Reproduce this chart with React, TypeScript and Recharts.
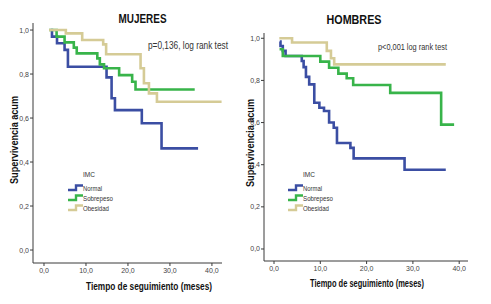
import React from 'react';
import { LineChart, Line, XAxis, YAxis, Label } from 'recharts';

// ---------- data ----------
const xTicks = [0, 10, 20, 30, 40];
const yTicks = [0, 0.2, 0.4, 0.6, 0.8, 1.0];
const groups = ['Normal', 'Sobrepeso', 'Obesidad'];
const colors = ['#3b4ea3', '#38b44a', '#d5cb96'];

// MUJERES
const mujNormalT = [1.6, 1.9, 3.1, 4.9, 5.7, 14.9, 16.1, 16.9, 23.3, 28.0, 36.7];
const mujNormalS = [1.0, 0.97, 0.94, 0.91, 0.833, 0.785, 0.69, 0.636, 0.576, 0.462, 0.462];
const mujSobreT = [1.2, 3.0, 4.9, 7.1, 7.8, 12.7, 13.3, 14.3, 17.9, 21.0, 21.8, 35.9];
const mujSobreS = [1.0, 0.97, 0.944, 0.92, 0.894, 0.871, 0.844, 0.826, 0.795, 0.765, 0.73, 0.73];
const mujObesT = [1.2, 5.2, 9.1, 14.1, 14.8, 23.0, 23.8, 25.0, 26.9, 42.3];
const mujObesS = [1.0, 0.985, 0.955, 0.935, 0.89, 0.826, 0.758, 0.712, 0.674, 0.674];

// HOMBRES
const homNormalT = [1.25, 1.4, 1.9, 2.5, 6.0, 6.4, 6.9, 7.6, 8.7, 9.8, 10.8, 11.9, 12.9, 13.6, 16.5, 17.2, 28.2, 37.1];
const homNormalS = [0.985, 0.963, 0.94, 0.916, 0.892, 0.863, 0.817, 0.781, 0.694, 0.67, 0.655, 0.6, 0.575, 0.503, 0.48, 0.43, 0.376, 0.376];
const homSobreT = [1.2, 1.9, 10.0, 11.9, 13.9, 15.7, 17.1, 25.1, 36.1, 38.9];
const homSobreS = [0.948, 0.916, 0.889, 0.86, 0.832, 0.81, 0.778, 0.741, 0.59, 0.59];
const homObesT = [1.15, 3.9, 11.4, 12.3, 13.0, 37.1];
const homObesS = [1.0, 0.98, 0.94, 0.905, 0.876, 0.876];

const pMujeres = 'p=0,136, log rank test';
const pHombres = 'p<0,001 log rank test';
const xTitle = 'Tiempo de seguimiento (meses)';
const yTitle = 'Supervivencia acum';
const legendTitle = 'IMC';

// ---------- helpers ----------
const toPoints = (t: number[], s: number[]) => t.map((v, i) => ({ t: v, s: s[i] }));
const fmt = (v: number) => v.toFixed(1).replace('.', ',');
const FONT = "'Liberation Sans', Arial, sans-serif";

const mujSeries = [toPoints(mujNormalT, mujNormalS), toPoints(mujSobreT, mujSobreS), toPoints(mujObesT, mujObesS)];
const homSeries = [toPoints(homNormalT, homNormalS), toPoints(homSobreT, homSobreS), toPoints(homObesT, homObesS)];

type PanelProps = {
  left: number;
  width: number;
  marginTop: number;
  marginRight: number;
  yAxisWidth: number;
  xAxisHeight: number;
  xDomain: [number, number];
  yDomain: [number, number];
  series: { t: number; s: number }[][];
  xTitlePos: { x: number; y: number; len: number };
  yTitlePos: { x: number; y: number; len: number };
};

function Panel(p: PanelProps) {
  const tickStyle = { fontSize: 7, fill: '#444', fontFamily: FONT };
  return (
    <div style={{ position: 'absolute', left: p.left, top: 0 }}>
      <LineChart
        width={p.width}
        height={304}
        margin={{ top: p.marginTop, right: p.marginRight, bottom: 0, left: 0 }}
      >
        <XAxis
          type="number"
          dataKey="t"
          domain={p.xDomain}
          ticks={xTicks}
          tickFormatter={fmt}
          allowDataOverflow
          interval={0}
          height={p.xAxisHeight}
          stroke="#3a3a3a"
          tick={tickStyle}
          tickSize={3}
          tickMargin={2}
        >
          <Label
            content={() => (
              <text
                x={p.xTitlePos.x}
                y={p.xTitlePos.y}
                textAnchor="middle"
                dominantBaseline="central"
                fontFamily={FONT}
                fontWeight="bold"
                fontSize={10.5}
                fill="#111"
                textLength={p.xTitlePos.len}
                lengthAdjust="spacingAndGlyphs"
              >
                {xTitle}
              </text>
            )}
          />
        </XAxis>
        <YAxis
          type="number"
          dataKey="s"
          domain={p.yDomain}
          ticks={yTicks}
          tickFormatter={fmt}
          allowDataOverflow
          interval={0}
          width={p.yAxisWidth}
          stroke="#3a3a3a"
          tick={tickStyle}
          tickSize={3}
          tickMargin={1}
        >
          <Label
            content={() => (
              <text
                x={p.yTitlePos.x}
                y={p.yTitlePos.y}
                textAnchor="middle"
                dominantBaseline="central"
                fontFamily={FONT}
                fontWeight="bold"
                fontSize={10.5}
                fill="#111"
                textLength={p.yTitlePos.len}
                lengthAdjust="spacingAndGlyphs"
                transform={`rotate(-90 ${p.yTitlePos.x} ${p.yTitlePos.y})`}
              >
                {yTitle}
              </text>
            )}
          />
        </YAxis>
        {p.series.map((d, i) => (
          <Line
            key={groups[i]}
            name={groups[i]}
            data={d}
            dataKey="s"
            type="stepAfter"
            stroke={colors[i]}
            strokeWidth={2.6}
            dot={false}
            activeDot={false}
            isAnimationActive={false}
          />
        ))}
      </LineChart>
    </div>
  );
}

function LegendBlock({ x, y }: { x: number; y: number }) {
  const textLens = [19, 30, 26];
  return (
    <g>
      <text x={x + 15} y={y} fontFamily={FONT} fontSize={8} fill="#333" dominantBaseline="central"
        textLength={12} lengthAdjust="spacingAndGlyphs">{legendTitle}</text>
      {groups.map((g, i) => {
        const cy = y + 14 + i * 10;
        return (
          <g key={g}>
            <path d={`M${x} ${cy + 2} H${x + 8} V${cy - 2.5} H${x + 15}`} fill="none" stroke={colors[i]} strokeWidth={2.4} />
            <text x={x + 15} y={cy} fontFamily={FONT} fontSize={7} fill="#333" dominantBaseline="central"
              textLength={textLens[i]} lengthAdjust="spacingAndGlyphs">{g}</text>
          </g>
        );
      })}
    </g>
  );
}

export default function App() {
  return (
    <div style={{ position: 'absolute', left: 0, top: 0, width: 491, height: 304, background: '#fff', overflow: 'hidden' }}>
      <Panel
        left={0}
        width={245}
        marginTop={23}
        marginRight={23}
        yAxisWidth={33}
        xAxisHeight={41}
        xDomain={[-2.62, 42.4]}
        yDomain={[-0.059, 1.032]}
        series={mujSeries}
        xTitlePos={{ x: 149, y: 286, len: 126 }}
        yTitlePos={{ x: 14, y: 140, len: 88 }}
      />
      <Panel
        left={245}
        width={246}
        marginTop={33}
        marginRight={23}
        yAxisWidth={19}
        xAxisHeight={43}
        xDomain={[-2.16, 41.9]}
        yDomain={[-0.057, 1.025]}
        series={homSeries}
        xTitlePos={{ x: 122, y: 283, len: 114 }}
        yTitlePos={{ x: 5, y: 143, len: 88 }}
      />
      <svg width={491} height={304} style={{ position: 'absolute', left: 0, top: 0, pointerEvents: 'none' }}>
        <text x={142.5} y={19} textAnchor="middle" dominantBaseline="central" fontFamily={FONT} fontWeight="bold"
          fontSize={12} fill="#111" textLength={48} lengthAdjust="spacingAndGlyphs">MUJERES</text>
        <text x={354} y={20} textAnchor="middle" dominantBaseline="central" fontFamily={FONT} fontWeight="bold"
          fontSize={12} fill="#111" textLength={55} lengthAdjust="spacingAndGlyphs">HOMBRES</text>
        <text x={148} y={45.5} dominantBaseline="central" fontFamily={FONT} fontSize={10} fill="#333"
          textLength={80} lengthAdjust="spacingAndGlyphs">{pMujeres}</text>
        <text x={378} y={46} dominantBaseline="central" fontFamily={FONT} fontSize={9.5} fill="#333"
          textLength={69} lengthAdjust="spacingAndGlyphs">{pHombres}</text>
        <LegendBlock x={68} y={174} />
        <LegendBlock x={288} y={174} />
      </svg>
    </div>
  );
}
